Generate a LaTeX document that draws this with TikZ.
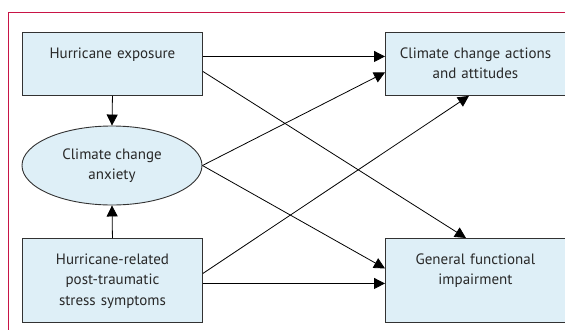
\documentclass[tikz,border=0pt]{standalone}
\usepackage{fontspec}
\setmainfont{PT Sans}
\usepackage{xcolor}
\usetikzlibrary{arrows.meta,shapes.geometric,positioning}
\definecolor{framered}{RGB}{200,20,70}
\definecolor{boxblue}{RGB}{222,239,247}
\definecolor{edgegrey}{RGB}{50,50,50}
\definecolor{textgrey}{RGB}{40,40,40}

\begin{document}
\begin{tikzpicture}[
    x=1pt, y=-1pt,
    font=\fontsize{15}{20.5}\selectfont,
    nosep/.style={inner sep=0},
    varbox/.style={rectangle, draw=edgegrey, line width=0.9pt, fill=boxblue, text=textgrey,
        nosep, text width=180pt, align=center, text height=26pt, anchor=north west},
    shortbox/.style={varbox, text depth=37pt},
    tallbox/.style={varbox, text depth=58pt},
    varoval/.style={ellipse, draw=edgegrey, line width=0.9pt, fill=boxblue, text=textgrey,
        nosep, minimum width=180pt, minimum height=79pt, align=center},
    conn/.style={draw=black, line width=0.8pt, -{Triangle[length=11pt,width=11pt]}}]
\useasboundingbox (0,0) rectangle (565,330);
\draw[framered, line width=1pt] (565,12) -- (8,12) -- (8,330);

\node[shortbox] (exposure) at (22,32)  {Hurricane exposure};
\node[varoval]  (anxiety)  at (112,165.5) {Climate change\\anxiety};
\node[tallbox]  (ptss)     at (22,238) {Hurricane-related\\post-traumatic\\stress symptoms};
\node[shortbox] (actions)  at (385,32) {Climate change actions\\and attitudes};
\node[tallbox]  (impair)   at (385,238) {General functional\\impairment};

\path[conn] (exposure.south) -- (anxiety.north);
\path[conn] (ptss.north) -- (anxiety.south);
\path[conn] ([yshift=7.5pt]exposure.east) -- ([yshift=7.5pt]actions.west);
\path[conn] ([yshift=-7.5pt]exposure.east) -- ([xshift=-9.5pt]impair.north);
\path[conn] (anxiety.east) -- ([yshift=-8.5pt]actions.west);
\path[conn] (anxiety.east) -- ([yshift=12pt]impair.west);
\path[conn] ([yshift=7pt]ptss.east) -- ([xshift=-6.5pt]actions.south);
\path[conn] ([yshift=-3pt]ptss.east) -- ([yshift=-3pt]impair.west);

\end{tikzpicture}
\end{document}
